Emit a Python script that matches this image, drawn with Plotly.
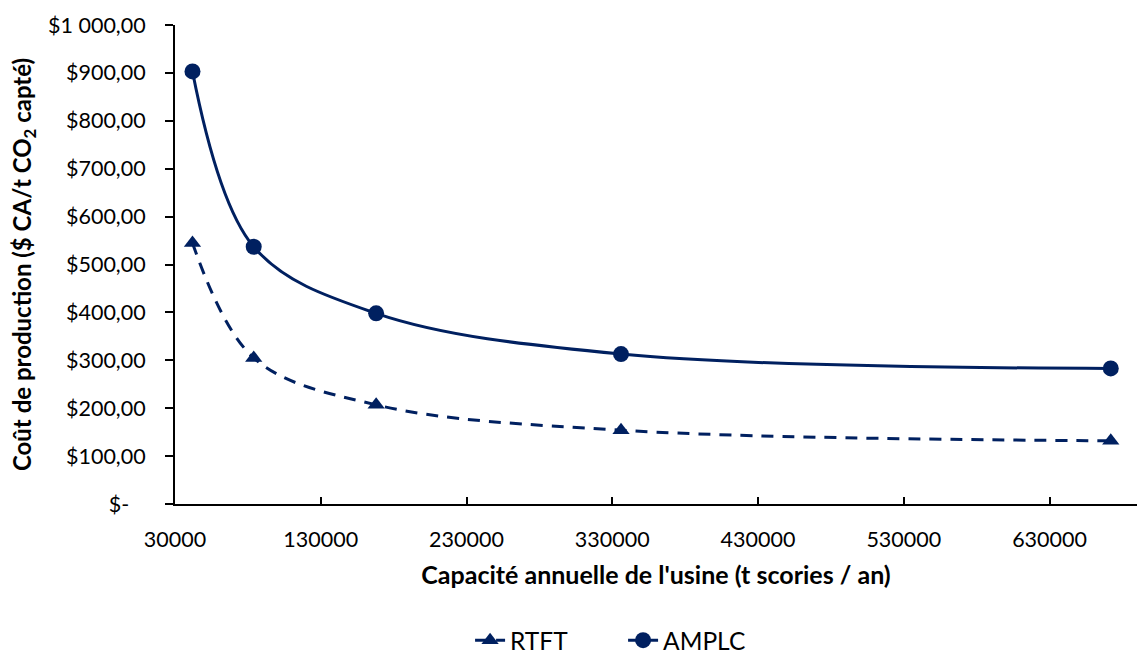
import plotly.graph_objects as go

capacity = [42000, 84000, 168000, 336000, 672000]
rtft_cost = [545, 305, 207, 154, 132]
amplc_cost = [903, 537, 398, 313, 283]

y_tickvals = [0, 100, 200, 300, 400, 500, 600, 700, 800, 900, 1000]
y_ticktext = ["$-\u00a0\u00a0\u00a0", "$100,00", "$200,00", "$300,00", "$400,00", "$500,00",
              "$600,00", "$700,00", "$800,00", "$900,00", "$1\u00a0000,00"]
x_tickvals = [30000, 130000, 230000, 330000, 430000, 530000, 630000]

navy = "#002060"
font_family = "Lato, 'Open Sans', sans-serif"

fig = go.Figure()
fig.add_trace(go.Scatter(
    x=capacity, y=rtft_cost, name="RTFT", mode="lines+markers",
    line=dict(color=navy, width=3, dash="12px,9px", shape="spline", smoothing=1),
    marker=dict(symbol="triangle-up", size=15, color=navy),
))
fig.add_trace(go.Scatter(
    x=capacity, y=amplc_cost, name="AMPLC", mode="lines+markers",
    line=dict(color=navy, width=3, shape="spline", smoothing=1),
    marker=dict(symbol="circle", size=16, color=navy),
))

fig.update_layout(
    width=1137, height=656,
    margin=dict(l=175, r=0, t=25, b=152),
    paper_bgcolor="white", plot_bgcolor="white",
    font=dict(family=font_family, size=21, color="black"),
    showlegend=True,
    legend=dict(orientation="h", xref="container", yref="container",
                x=0.548, xanchor="center", y=0.024, yanchor="middle",
                font=dict(size=24.5), entrywidth=108, entrywidthmode="pixels"),
)
fig.update_xaxes(
    range=[30000, 690000], tickmode="array", tickvals=x_tickvals,
    ticktext=[str(v) for v in x_tickvals],
    showgrid=False, zeroline=False, showline=True, linecolor="black", linewidth=2,
    ticks="inside", ticklen=7, tickwidth=1.5, tickcolor="black",
    ticklabelstandoff=15, tickfont=dict(size=21.5),
    title=dict(text="<b>Capacité annuelle de l'usine (t scories / an)</b>",
               font=dict(size=25), standoff=16),
)
fig.update_yaxes(
    range=[0, 1000], tickmode="array", tickvals=y_tickvals, ticktext=y_ticktext,
    showgrid=False, zeroline=False, showline=True, linecolor="black", linewidth=2,
    ticks="outside", ticklen=8, tickwidth=1.5, tickcolor="black",
    ticklabelstandoff=15, tickfont=dict(size=21.5),
    title=dict(text="<b>Coût de production ($ CA/t CO<sub>2</sub> capté)</b>",
               font=dict(size=24), standoff=10),
)

fig.write_html("out.html")
